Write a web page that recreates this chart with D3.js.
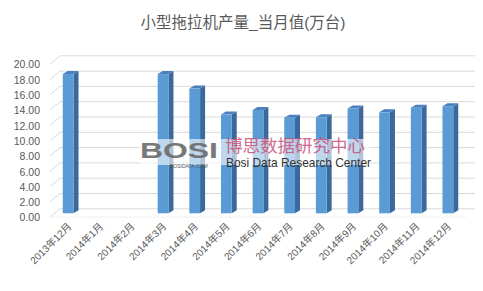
<!DOCTYPE html>
<html>
<head>
<meta charset="utf-8">
<script src="https://cdn.jsdelivr.net/npm/d3@7"></script>
<style>
  body { margin: 0; background: #fff; }
  text { font-family: "Liberation Sans", "Noto Sans CJK SC", sans-serif; }
</style>
</head>
<body>
<div id="container"></div>
<script>
// data
const months = ["2013年12月","2014年1月","2014年2月","2014年3月","2014年4月","2014年5月",
  "2014年6月","2014年7月","2014年8月","2014年9月","2014年10月","2014年11月","2014年12月"];
const output = [18.2, null, null, 18.2, 16.3, 12.9, 13.5, 12.5, 12.55, 13.7, 13.2, 13.8, 14.0];
const yTicks = [0, 2, 4, 6, 8, 10, 12, 14, 16, 18, 20];

const W = 483, H = 291;
const depth = {dx: 5, dy: -4.5};   // bars to back wall
const side = {dx: 5, dy: -3};      // bar depth

let viz = d3.select("#container")
  .append("svg")
    .attr("width", W)
    .attr("height", H);

viz.append("rect").attr("width", W).attr("height", H).attr("fill", "#fff");

let x = d3.scaleBand().domain(months).range([52, 464]).paddingInner(0.66).paddingOuter(0.34);
let y = d3.scaleLinear().domain([0, 20]).range([213.3, 60.3]);

// title
viz.append("text")
  .text("小型拖拉机产量_当月值(万台)")
  .attr("x", 243)
  .attr("y", 28)
  .attr("text-anchor", "middle")
  .attr("font-size", 15.5)
  .attr("fill", "#595959");

// gridlines (back wall + slanted floor part)
let grid = viz.append("g");
yTicks.forEach(function (t) {
  let yy = y(t);
  grid.append("path")
    .attr("d", "M50," + (yy + 3.8) + "L" + (50 + 2 * depth.dx) + "," + (yy + depth.dy) + "L475," + (yy + depth.dy))
    .attr("fill", "none")
    .attr("stroke", "#d9d9d9")
    .attr("stroke-width", 1);
});
// front floor edge
viz.append("line")
  .attr("x1", 50).attr("y1", y(0) + 3.8)
  .attr("x2", 466).attr("y2", y(0) + 3.8)
  .attr("stroke", "#f0f0f0");

// y labels
viz.append("g").selectAll("text")
  .data(yTicks)
  .join("text")
  .text(d => d.toFixed(2))
  .attr("x", 40)
  .attr("y", d => y(d) + 4.5)
  .attr("dy", "0.35em")
  .attr("text-anchor", "end")
  .attr("font-size", 10.5)
  .attr("fill", "#595959");

// bars
let bars = viz.append("g").selectAll("g")
  .data(months.map((m, i) => ({m: m, v: output[i]})).filter(d => d.v != null))
  .join("g");

bars.append("path") // side
  .attr("d", d => {
    let x1 = x(d.m) + x.bandwidth(), y0 = y(0), y1 = y(d.v);
    return "M" + x1 + "," + y0 + "L" + (x1 + side.dx) + "," + (y0 + side.dy) +
      "L" + (x1 + side.dx) + "," + (y1 + side.dy) + "L" + x1 + "," + y1 + "Z";
  })
  .attr("fill", "#3a6a9c");

bars.append("path") // top
  .attr("d", d => {
    let x0 = x(d.m), x1 = x0 + x.bandwidth(), y1 = y(d.v);
    return "M" + x0 + "," + y1 + "L" + (x0 + side.dx) + "," + (y1 + side.dy) +
      "L" + (x1 + side.dx) + "," + (y1 + side.dy) + "L" + x1 + "," + y1 + "Z";
  })
  .attr("fill", "#4a80bd");

bars.append("rect") // front
  .attr("x", d => x(d.m))
  .attr("y", d => y(d.v))
  .attr("width", x.bandwidth())
  .attr("height", d => y(0) - y(d.v))
  .attr("fill", "#5b9bd5");

// x labels
viz.append("g").selectAll("text")
  .data(months)
  .join("text")
  .text(d => d)
  .attr("transform", d => "translate(" + (x(d) + x.bandwidth() / 2 + 4) + ",227) rotate(-45)")
  .attr("text-anchor", "end")
  .attr("font-size", 10)
  .attr("fill", "#595959");

// watermark
let wm = viz.append("g");
wm.append("rect")
  .attr("x", 140).attr("y", 139)
  .attr("width", 231).attr("height", 26)
  .attr("fill", "#fff")
  .attr("opacity", 0.6);
wm.append("text")
  .text("BOSI")
  .attr("x", 140).attr("y", 158)
  .attr("font-size", 22)
  .attr("font-weight", "bold")
  .attr("textLength", 78)
  .attr("lengthAdjust", "spacingAndGlyphs")
  .attr("fill", "#6b6b6b")
  .attr("opacity", 0.9);
wm.append("text")
  .text("BOSIDATA.COM")
  .attr("x", 170).attr("y", 168)
  .attr("font-size", 5)
  .attr("fill", "#555");
wm.append("text")
  .text("博思数据研究中心")
  .attr("x", 225).attr("y", 152)
  .attr("font-size", 17.5)
  .attr("font-family", "Noto Sans CJK SC")
  .attr("fill", "#c9507a")
  .attr("opacity", 0.85);
wm.append("text")
  .text("Bosi Data Research Center")
  .attr("x", 226).attr("y", 167)
  .attr("font-size", 13)
  .attr("textLength", 145)
  .attr("lengthAdjust", "spacingAndGlyphs")
  .attr("fill", "#333");
</script>
</body>
</html>
